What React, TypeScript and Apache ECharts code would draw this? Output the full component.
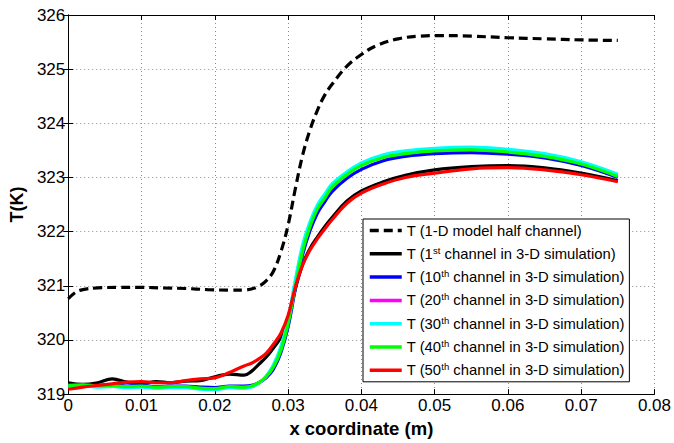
import React, { useEffect, useRef } from "react";
import * as echarts from "echarts";

const FONT = "Liberation Sans, Arial, Helvetica, sans-serif";

// x positions (m) for the 1-D model curve
const X_1D = [0, 0.001, 0.002, 0.004, 0.007, 0.01, 0.013, 0.016, 0.019, 0.022, 0.024, 0.025, 0.026, 0.027, 0.028, 0.029, 0.03, 0.031, 0.032, 0.033, 0.034, 0.035, 0.036, 0.038, 0.04, 0.042, 0.045, 0.048, 0.051, 0.055, 0.06, 0.065, 0.07, 0.075];
const T_1D = [320.76, 320.88, 320.93, 320.96, 320.97, 320.97, 320.96, 320.95, 320.93, 320.92, 320.92, 320.94, 320.99, 321.09, 321.27, 321.62, 322.12, 322.8, 323.42, 323.88, 324.24, 324.52, 324.72, 325.05, 325.27, 325.43, 325.56, 325.61, 325.62, 325.61, 325.58, 325.56, 325.54, 325.53];

// x positions (m) for the 3-D simulation channels
const X_3D = [0, 0.002, 0.004, 0.006, 0.008, 0.01, 0.012, 0.014, 0.016, 0.018, 0.02, 0.022, 0.024, 0.025, 0.026, 0.027, 0.028, 0.029, 0.03, 0.031, 0.032, 0.033, 0.034, 0.035, 0.036, 0.038, 0.04, 0.043, 0.046, 0.05, 0.055, 0.06, 0.065, 0.07, 0.075];
const T_1ST = [319.21, 319.18, 319.21, 319.28, 319.22, 319.19, 319.23, 319.21, 319.24, 319.25, 319.32, 319.37, 319.35, 319.42, 319.55, 319.68, 319.85, 320.05, 320.38, 320.95, 321.4, 321.69, 321.9, 322.09, 322.26, 322.56, 322.75, 322.92, 323.04, 323.14, 323.2, 323.22, 323.18, 323.08, 322.94];
const T_10TH = [319.16, 319.17, 319.16, 319.17, 319.15, 319.16, 319.14, 319.15, 319.15, 319.13, 319.12, 319.15, 319.15, 319.16, 319.21, 319.3, 319.46, 319.76, 320.24, 320.95, 321.58, 322.02, 322.34, 322.55, 322.74, 322.98, 323.15, 323.31, 323.39, 323.44, 323.46, 323.43, 323.36, 323.22, 323.0];
const T_20TH = [319.15, 319.16, 319.14, 319.15, 319.13, 319.14, 319.12, 319.13, 319.13, 319.1, 319.09, 319.13, 319.12, 319.14, 319.2, 319.32, 319.52, 319.84, 320.34, 321.07, 321.71, 322.15, 322.46, 322.66, 322.85, 323.08, 323.25, 323.4, 323.47, 323.52, 323.54, 323.5, 323.42, 323.27, 323.04];
const T_30TH = [319.14, 319.15, 319.13, 319.14, 319.12, 319.13, 319.11, 319.12, 319.12, 319.09, 319.08, 319.12, 319.11, 319.13, 319.2, 319.33, 319.54, 319.87, 320.38, 321.12, 321.76, 322.18, 322.49, 322.69, 322.88, 323.1, 323.27, 323.42, 323.49, 323.54, 323.56, 323.52, 323.44, 323.29, 323.06];
const T_40TH = [319.16, 319.17, 319.15, 319.16, 319.14, 319.15, 319.13, 319.14, 319.14, 319.11, 319.1, 319.14, 319.13, 319.15, 319.21, 319.32, 319.5, 319.8, 320.3, 321.0, 321.65, 322.1, 322.42, 322.62, 322.82, 323.05, 323.22, 323.37, 323.44, 323.49, 323.51, 323.47, 323.39, 323.25, 323.02];
const T_50TH = [319.09, 319.13, 319.16, 319.19, 319.22, 319.23, 319.21, 319.21, 319.25, 319.28, 319.3, 319.4, 319.52, 319.57, 319.65, 319.75, 319.92, 320.12, 320.45, 320.98, 321.39, 321.66, 321.87, 322.05, 322.22, 322.52, 322.71, 322.88, 323.0, 323.08, 323.16, 323.18, 323.14, 323.05, 322.92];

const SERIES_NAMES = [
  "T (1-D model half channel)",
  "T (1st channel in 3-D simulation)",
  "T (10th channel in 3-D simulation)",
  "T (20th channel in 3-D simulation)",
  "T (30th channel in 3-D simulation)",
  "T (40th channel in 3-D simulation)",
  "T (50th channel in 3-D simulation)",
];
const SERIES_COLORS = ["#000000", "#000000", "#0000ff", "#ff00ff", "#00ffff", "#00ff00", "#ff0000"];

const X_MIN = 0;
const X_MAX = 0.08;
const X_STEP = 0.01;
const Y_MIN = 319;
const Y_MAX = 326;
const Y_STEP = 1;

const zip = (xs: number[], ys: number[]) => xs.map((x, i) => [x, ys[i]]);

export default function App() {
  const ref = useRef<HTMLDivElement>(null);
  useEffect(() => {
    if (!ref.current) return;
    const chart = echarts.init(ref.current, undefined, { renderer: "svg" });
    const seriesData = [
      zip(X_1D, T_1D),
      zip(X_3D, T_1ST),
      zip(X_3D, T_10TH),
      zip(X_3D, T_20TH),
      zip(X_3D, T_30TH),
      zip(X_3D, T_40TH),
      zip(X_3D, T_50TH),
    ];
    const axisCommon = {
      axisLine: { show: true, lineStyle: { color: "#000", width: 1 } },
      axisTick: { show: true, inside: true, length: 5, lineStyle: { color: "#000", width: 1 } },
    };
    chart.setOption({
      animation: false,
      backgroundColor: "#ffffff",
      textStyle: { fontFamily: FONT },
      grid: { left: 64, right: 18, top: 15, bottom: 41, containLabel: false },
      xAxis: [
        {
          type: "value",
          min: X_MIN,
          max: X_MAX,
          interval: X_STEP,
          name: "x coordinate (m)",
          nameLocation: "middle",
          nameGap: 21,
          nameTextStyle: { fontFamily: FONT, fontSize: 18.5, fontWeight: "bold", color: "#000" },
          ...axisCommon,
          axisLabel: {
            fontFamily: FONT,
            fontSize: 17,
            color: "#000",
            margin: 3,
            formatter: (v: number) => (v === 0 ? "0" : v.toFixed(2)),
          },
          splitLine: { show: true, lineStyle: { color: "#8c8c8c", type: [1, 3], width: 1 } },
        },
        {
          type: "value",
          position: "top",
          min: X_MIN,
          max: X_MAX,
          interval: X_STEP,
          ...axisCommon,
          axisLabel: { show: false },
          splitLine: { show: false },
        },
      ],
      yAxis: [
        {
          type: "value",
          min: Y_MIN,
          max: Y_MAX,
          interval: Y_STEP,
          name: "T(K)",
          nameLocation: "middle",
          nameGap: 37,
          nameTextStyle: { fontFamily: FONT, fontSize: 18, fontWeight: "bold", color: "#000" },
          ...axisCommon,
          axisLabel: { fontFamily: FONT, fontSize: 17, color: "#000", margin: 3 },
          splitLine: { show: true, lineStyle: { color: "#8c8c8c", type: [1, 3], width: 1 } },
        },
        {
          type: "value",
          position: "right",
          min: Y_MIN,
          max: Y_MAX,
          interval: Y_STEP,
          ...axisCommon,
          axisLabel: { show: false },
          splitLine: { show: false },
        },
      ],
      legend: {
        show: true,
        orient: "vertical",
        left: 363,
        top: 219,
        backgroundColor: "#ffffff",
        borderColor: "#000000",
        borderWidth: 1,
        padding: [3, 5, 3, 5],
        itemGap: 6.3,
        itemWidth: 32,
        itemHeight: 14,
        selectedMode: false,
        data: SERIES_NAMES,
        itemStyle: { color: "rgba(0,0,0,0)", borderColor: "rgba(0,0,0,0)", borderWidth: 0, opacity: 0 },
        lineStyle: { width: 3.5 },
        formatter: (name: string) => name.replace(/(\d+)(st|th)\b/, "$1{s|$2}"),
        textStyle: {
          fontFamily: FONT,
          fontSize: 14.8,
          color: "#000",
          lineHeight: 17,
          rich: {
            s: { fontFamily: FONT, fontSize: 9.5, color: "#000", verticalAlign: "top", lineHeight: 17, padding: [0, 0, 6, 0] },
          },
        },
      },
      series: SERIES_NAMES.map((name, i) => ({
        name,
        type: "line",
        xAxisIndex: 0,
        yAxisIndex: 0,
        data: seriesData[i],
        symbol: "none",
        showSymbol: false,
        smooth: 0.4,
        color: SERIES_COLORS[i],
        lineStyle: {
          color: SERIES_COLORS[i],
          width: 3.2,
          type: i === 0 ? [9, 5] : "solid",
          cap: "butt",
        },
        z: 2 + i,
      })),
    });
    return () => chart.dispose();
  }, []);
  return (
    <div
      ref={ref}
      style={{ position: "fixed", left: 0, top: 0, width: 674, height: 443, background: "#fff" }}
    />
  );
}
